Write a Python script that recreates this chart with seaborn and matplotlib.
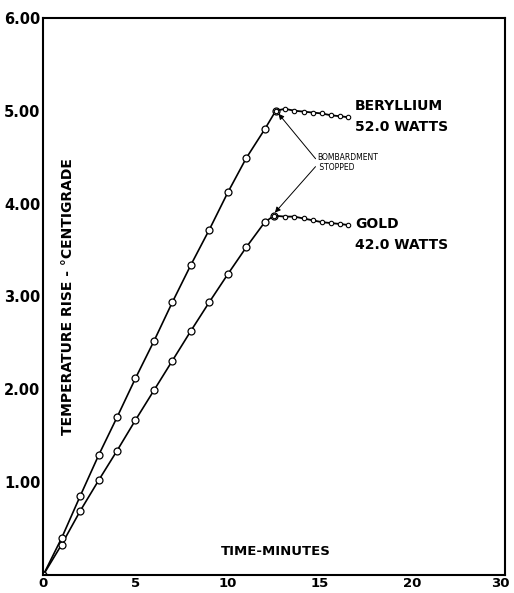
import pandas as pd
import matplotlib.pyplot as plt
import matplotlib.transforms as mtransforms
import seaborn as sns

# heating phase (minutes, temperature rise)
be_heat_t = [0, 1, 2, 3, 4, 5, 6, 7, 8, 9, 10, 11, 12, 12.6]
be_heat_y = [0, 0.40, 0.85, 1.29, 1.70, 2.12, 2.52, 2.94, 3.34, 3.72, 4.12, 4.49, 4.80, 5.00]
au_heat_t = [0, 1, 2, 3, 4, 5, 6, 7, 8, 9, 10, 11, 12, 12.5]
au_heat_y = [0, 0.33, 0.69, 1.02, 1.34, 1.67, 1.99, 2.31, 2.63, 2.94, 3.24, 3.53, 3.80, 3.87]

# cooling phase after bombardment stopped
be_cool_t = [12.6, 13.1, 13.6, 14.1, 14.6, 15.1, 15.6, 16.1, 16.5]
be_cool_y = [5.00, 5.02, 5.00, 4.99, 4.98, 4.97, 4.95, 4.94, 4.93]
au_cool_t = [12.5, 13.1, 13.6, 14.1, 14.6, 15.1, 15.6, 16.1, 16.5]
au_cool_y = [3.87, 3.86, 3.86, 3.84, 3.82, 3.80, 3.79, 3.78, 3.77]

x_ticks = [0, 5, 10, 15, 20, 25]
x_tick_labels = ['0', '5', '10', '15', '20', '30']
y_ticks = [1, 2, 3, 4, 5, 6]
y_tick_labels = ['1.00', '2.00', '3.00', '4.00', '5.00', '6.00']


def plot_chart():
    sns.set_style('white')
    plt.rcParams['font.family'] = ['DejaVu Sans']
    plt.rcParams['text.color'] = 'black'
    plt.rcParams['xtick.color'] = 'black'
    plt.rcParams['ytick.color'] = 'black'

    heat = pd.concat([
        pd.DataFrame({'t': be_heat_t, 'y': be_heat_y, 'metal': 'Be'}),
        pd.DataFrame({'t': au_heat_t, 'y': au_heat_y, 'metal': 'Au'}),
    ])
    cool = pd.concat([
        pd.DataFrame({'t': be_cool_t, 'y': be_cool_y, 'metal': 'Be'}),
        pd.DataFrame({'t': au_cool_t, 'y': au_cool_y, 'metal': 'Au'}),
    ])

    fig = plt.figure(figsize=(5.14, 5.93), dpi=100)
    ax = fig.add_axes([0.084, 0.030, 0.898, 0.940])

    sns.lineplot(data=heat, x='t', y='y', units='metal', estimator=None, color='black',
                 lw=1.2, marker='o', markersize=5, markerfacecolor='white',
                 markeredgecolor='black', markeredgewidth=0.9, ax=ax, sort=False)
    sns.lineplot(data=cool, x='t', y='y', units='metal', estimator=None, color='black',
                 lw=1.3, marker='o', markersize=3.2, markerfacecolor='white',
                 markeredgecolor='black', markeredgewidth=0.8, ax=ax, sort=False)

    ax.set_xlim(0, 25)
    ax.set_ylim(0, 6)
    ax.set_xticks(x_ticks)
    ax.set_xticklabels(x_tick_labels)
    ax.set_yticks(y_ticks)
    ax.set_yticklabels(y_tick_labels)
    ax.tick_params(direction='in', length=5, width=1.2, labelsize=10.5, pad=2)
    ax.tick_params(axis='x', labelsize=9.5, pad=1)
    for lab in ax.get_xticklabels() + ax.get_yticklabels():
        lab.set_fontweight('bold')
    # keep the last x label inside the figure
    last = ax.get_xticklabels()[-1]
    last.set_transform(last.get_transform() +
                       mtransforms.ScaledTranslation(-3 / 72, 0, fig.dpi_scale_trans))
    ax.set_xlabel('')
    ax.set_ylabel('')
    for sp in ax.spines.values():
        sp.set_visible(True)
        sp.set_color('black')
        sp.set_linewidth(1.5)

    ax.text(1.35, 3.0, 'TEMPERATURE RISE - °CENTIGRADE', rotation=90, ha='center',
            va='center', fontsize=10, fontweight='bold')
    ax.text(12.6, 0.26, 'TIME-MINUTES', ha='center', va='center', fontsize=9.5,
            fontweight='bold')

    ax.text(16.9, 5.05, 'BERYLLIUM', ha='left', va='center', fontsize=10, fontweight='bold')
    ax.text(16.9, 4.82, '52.0 WATTS', ha='left', va='center', fontsize=10, fontweight='bold')
    ax.text(16.9, 3.78, 'GOLD', ha='left', va='center', fontsize=10, fontweight='bold')
    ax.text(16.9, 3.55, '42.0 WATTS', ha='left', va='center', fontsize=10, fontweight='bold')

    ax.text(14.85, 4.44, 'BOMBARDMENT\n STOPPED', ha='left', va='center', fontsize=5.5,
            linespacing=1.1)
    arrow = dict(arrowstyle='-|>', color='black', lw=0.7, mutation_scale=8)
    ax.annotate('', xy=(12.65, 4.99), xytext=(14.85, 4.46), arrowprops=arrow)
    ax.annotate('', xy=(12.45, 3.88), xytext=(14.85, 4.42), arrowprops=arrow)

    fig.savefig('out.png', dpi=100)
    plt.close(fig)


if __name__ == "__main__":
    plot_chart()
